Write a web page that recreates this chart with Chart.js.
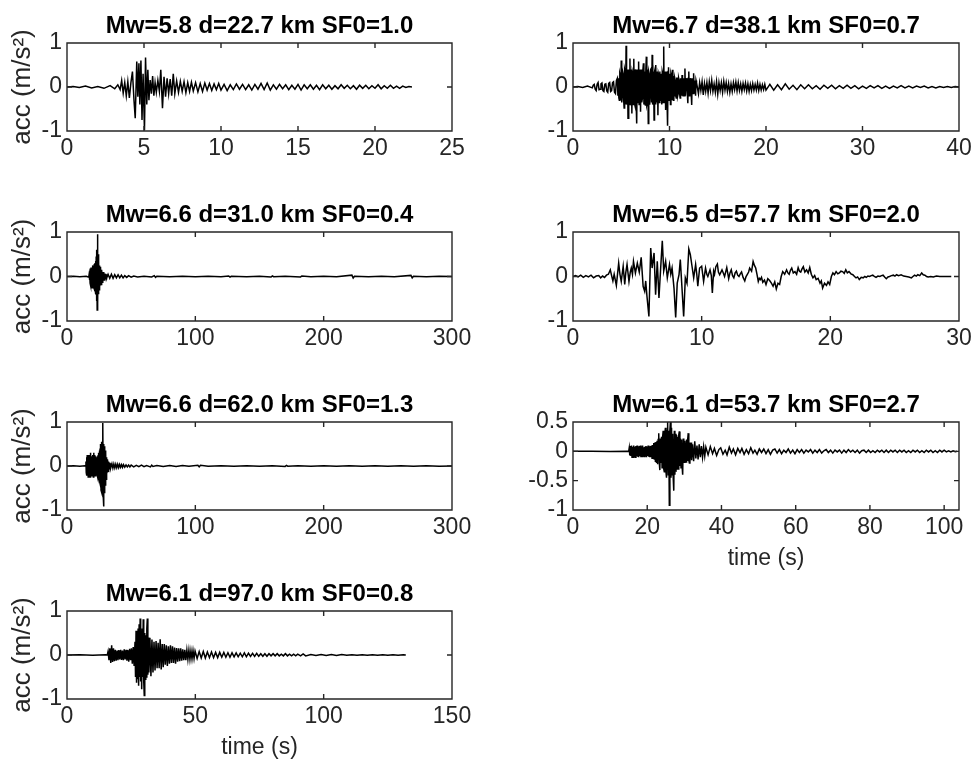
<!DOCTYPE html>
<html><head><meta charset="utf-8">
<script src="https://cdn.jsdelivr.net/npm/chart.js@4/dist/chart.umd.min.js"></script>
<style>
html,body{margin:0;padding:0;background:#fff;overflow:hidden;width:972px;height:759px;}
.panel{position:absolute;}
</style></head><body>
<script>
// ---------- data (time s, acceleration m/s^2) ----------
const titles = ['Mw=5.8 d=22.7 km SF0=1.0','Mw=6.7 d=38.1 km SF0=0.7','Mw=6.6 d=31.0 km SF0=0.4','Mw=6.5 d=57.7 km SF0=2.0','Mw=6.6 d=62.0 km SF0=1.3','Mw=6.1 d=53.7 km SF0=2.7','Mw=6.1 d=97.0 km SF0=0.8'];
const xMax = [25, 40, 300, 30, 300, 104, 150];
const xStep = [5, 10, 100, 10, 100, 20, 50];
const yMin = [-1, -1, -1, -1, -1, -1, -1];
const yMax = [1, 1, 1, 1, 1, 0.5, 1];
const yStep = [1, 1, 1, 1, 1, 0.5, 1];
const yLabel = 'acc (m/s\u00B2)';
const xLabel = 'time (s)';

const trace1 = [[0,0],[0.4,0.01],[0.8,-0.01],[1.2,0.02],[1.6,-0.02],[2.0,0.01],[2.4,-0.03],[2.8,0.03],[3.1,-0.04],[3.3,0.05],
[3.45,-0.06],[3.55,0.15],[3.65,-0.14],[3.75,0.1],[3.85,-0.2],[3.95,0.12],[4.05,-0.25],[4.15,0.1],[4.25,0.35],[4.35,-0.3],
[4.43,-0.71],[4.53,0.58],[4.6,-0.22],[4.67,0.54],[4.73,-0.4],[4.8,0.6],[4.87,-0.75],[4.94,0.3],[5.03,-0.98],[5.1,0.67],
[5.18,-0.4],[5.25,0.39],[5.32,-0.3],[5.4,0.16],[5.48,-0.15],[5.56,0.25],[5.64,-0.2],[5.72,0.1],[5.8,-0.12],[5.9,0.15],
[6.0,-0.1],[6.09,0.39],[6.2,-0.48],[6.3,0.23],[6.4,-0.22],[6.5,0.2],[6.6,-0.15],[6.7,0.18],[6.8,-0.2],[6.9,0.3],
[7.0,-0.15],[7.12,0.14],[7.24,-0.12],[7.36,0.13],[7.48,-0.1],[7.6,0.12],[7.72,-0.13],[7.84,0.1],[7.96,-0.1],[8.08,0.11],
[8.2,-0.09],[8.35,0.1],[8.5,-0.11],[8.65,0.08],[8.8,-0.1],[8.95,0.09],[9.1,-0.07],[9.25,0.08],[9.4,-0.08],[9.55,0.07],
[9.7,-0.06],[9.85,0.08],[10.0,-0.07],[10.2,0.06],[10.4,-0.08],[10.6,0.05],[10.8,-0.06],[11.0,0.07],[11.2,-0.05],[11.4,0.06],
[11.6,-0.06],[11.8,0.05],[12.0,-0.07],[12.2,0.06],[12.4,-0.05],[12.6,0.08],[12.8,-0.06],[13.0,0.09],[13.2,-0.07],[13.4,0.05],
[13.6,-0.05],[13.8,0.06],[14.0,-0.04],[14.2,0.05],[14.4,-0.06],[14.6,0.04],[14.8,-0.05],[15.0,0.06],[15.2,-0.07],[15.4,0.05],
[15.6,-0.04],[15.8,0.05],[16.0,-0.05],[16.2,0.04],[16.4,-0.06],[16.6,0.05],[16.8,-0.04],[17.0,0.04],[17.2,-0.05],[17.4,0.03],
[17.6,-0.04],[17.8,0.05],[18.0,-0.03],[18.2,0.04],[18.4,-0.04],[18.6,0.03],[18.8,-0.05],[19.0,0.04],[19.2,-0.03],[19.4,0.04],
[19.6,-0.04],[19.8,0.03],[20.0,-0.03],[20.2,0.05],[20.4,-0.04],[20.6,0.03],[20.8,-0.03],[21.0,0.04],[21.2,-0.03],[21.4,0.02],
[21.6,-0.03],[21.8,0.02],[22.0,-0.01],[22.2,0.01],[22.4,0]];

const trace2 = [[0,0],[0.5,0.01],[1.0,-0.01],[1.5,0.02],[2.0,-0.02],
[2.1,0.04],[2.2,0.06],[2.3,-0.05],[2.4,-0.08],[2.5,0.06],[2.6,0.1],[2.7,-0.06],[2.8,-0.05],[2.9,0.07],[3.0,0.09],
[3.1,-0.08],[3.2,-0.1],[3.3,0.06],[3.4,0.07],[3.5,-0.09],[3.6,-0.12],[3.7,0.08],[3.8,0.1],[3.9,-0.1],[4.0,-0.08],
[4.1,0.1],[4.2,0.12],[4.3,-0.12],[4.4,-0.15],[4.5,0.15],[4.6,0.2],[4.65,-0.2],
[4.7,0.2],[4.75,-0.25],[4.8,-0.3],[4.85,0.3],[4.9,0.25],[4.95,-0.3],[5.0,0.6],[5.05,-0.35],[5.1,-0.2],[5.15,0.35],
[5.2,0.3],[5.25,-0.3],[5.3,-0.48],[5.35,0.4],[5.4,0.35],[5.45,-0.4],[5.5,0.94],[5.55,-0.4],[5.6,-0.3],[5.65,0.4],
[5.7,-0.71],[5.75,0.35],[5.8,0.4],[5.85,-0.4],[5.9,0.65],[5.95,-0.3],[6.0,-0.35],[6.05,0.4],[6.1,-0.6],[6.15,0.35],
[6.2,0.3],[6.25,-0.4],[6.3,0.64],[6.35,-0.35],[6.4,-0.4],[6.45,0.4],[6.5,0.25],[6.55,-0.4],[6.6,-0.83],[6.65,0.4],
[6.7,0.3],[6.75,-0.35],[6.8,0.58],[6.85,-0.4],[6.9,-0.3],[6.95,0.4],[7.0,-0.56],[7.05,0.4],[7.1,0.35],[7.15,-0.35],
[7.2,-0.25],[7.25,0.4],[7.3,0.54],[7.35,-0.4],[7.4,-0.3],[7.45,0.35],[7.5,-0.41],[7.55,0.4],[7.6,0.69],[7.65,-0.4],
[7.7,-0.35],[7.75,0.4],[7.8,-0.83],[7.85,0.35],[7.9,0.3],[7.95,-0.4],[8.0,-0.2],[8.05,0.4],[8.1,0.42],[8.15,-0.35],
[8.2,0.73],[8.25,-0.4],[8.3,-0.3],[8.35,0.35],[8.4,-0.75],[8.45,0.35],[8.5,0.3],[8.55,-0.4],[8.6,0.5],[8.65,-0.35],
[8.7,-0.35],[8.75,0.35],[8.8,-0.64],[8.85,0.3],[8.9,0.25],[8.95,-0.35],[9.0,0.35],[9.05,-0.3],[9.1,-0.2],[9.15,0.3],
[9.2,-0.4],[9.25,0.35],[9.3,0.3],[9.35,-0.35],[9.4,0.92],[9.45,-0.35],[9.5,-0.3],[9.55,0.35],[9.6,-0.52],[9.65,0.35],
[9.7,0.2],[9.75,-0.35],[9.8,-0.88],[9.85,0.35],[9.9,0.45],[9.95,-0.3],[10.0,-0.25],[10.05,0.3],[10.1,-0.4],[10.15,0.3],
[10.2,0.25],[10.25,-0.3],[10.3,0.39],[10.35,-0.25],[10.4,-0.3],[10.45,0.25],[10.5,-0.2],[10.55,0.2],[10.6,0.15],[10.65,-0.2],
[10.7,-0.25],[10.75,0.2],[10.8,0.2],[10.85,-0.2],[10.9,-0.15],[10.95,0.2],[11.0,0.15],[11.05,-0.15],[11.1,-0.25],[11.15,0.2],
[11.2,0.1],[11.25,-0.2],[11.3,0.27],[11.35,-0.15],[11.4,-0.2],[11.45,0.2],[11.5,0.15],[11.55,-0.2],[11.6,0.42],[11.65,-0.2],
[11.7,-0.2],[11.75,0.2],[11.8,0.1],[11.85,-0.15],[11.9,-0.37],[11.95,0.2],[12.0,0.35],[12.05,-0.2],[12.1,-0.15],[12.15,0.2],
[12.2,0.1],[12.25,-0.15],[12.3,-0.41],[12.35,0.2],[12.4,0.2],[12.45,-0.15],[12.5,0.31],[12.55,-0.15],[12.6,-0.15],[12.65,0.15],
[12.7,-0.2],[12.75,0.15],[12.8,0.1],
[13.0,-0.15],[13.125,0.1],[13.25,-0.08],[13.375,0.12],[13.5,-0.18],[13.625,0.08],[13.75,-0.1],[13.875,0.1],
[14.0,-0.14],[14.125,0.12],[14.25,-0.08],[14.375,0.15],[14.5,-0.1],[14.625,0.07],[14.75,-0.12],[14.875,0.12],
[15.0,-0.16],[15.125,0.1],[15.25,-0.08],[15.375,0.1],[15.5,-0.12],[15.625,0.13],[15.75,-0.07],[15.875,0.1],
[16.0,-0.1],[16.125,0.08],[16.25,-0.12],[16.375,0.07],[16.5,-0.1],[16.625,0.1],[16.75,-0.06],[16.875,0.11],
[17.0,-0.09],[17.125,0.1],[17.25,-0.08],[17.375,0.07],[17.5,-0.1],[17.625,0.08],[17.75,-0.06],[17.875,0.09],
[18.0,-0.09],[18.125,0.07],[18.25,-0.1],[18.375,0.06],[18.5,-0.08],[18.625,0.08],[18.75,-0.07],[18.875,0.06],
[19.0,-0.07],[19.125,0.09],[19.25,-0.08],[19.375,0.06],[19.5,-0.07],[19.625,0.05],[19.75,-0.06],[19.875,0.06],[20.0,-0.07],
[20.4,0.06],[20.8,-0.07],[21.2,0.05],[21.6,-0.06],[22.0,0.07],[22.4,-0.05],[22.8,0.04],[23.2,-0.06],[23.6,0.05],[24.0,-0.04],
[24.4,0.05],[24.8,-0.04],[25.2,0.03],[25.6,-0.05],[26.0,0.04],[26.4,-0.03],[26.8,0.04],[27.2,-0.04],[27.6,0.03],[28.0,-0.03],
[28.4,0.04],[28.8,-0.03],[29.2,0.03],[29.6,-0.04],[30.0,0.02],[30.4,-0.03],[30.8,0.03],[31.2,-0.02],[31.6,0.03],[32.0,-0.03],
[32.4,0.02],[32.8,-0.03],[33.2,0.02],[33.6,-0.02],[34.0,0.03],[34.4,-0.02],[34.8,0.02],[35.2,-0.02],[35.6,0.02],[36.0,-0.01],
[36.4,0.02],[36.8,-0.02],[37.2,0.01],[37.6,-0.02],[38.0,0.01],[38.4,-0.01],[38.8,0.01],[39.2,-0.01],[39.6,0.01],[40.0,0]];

const trace3 = [[0,0],[5,0.005],[10,-0.005],[15,0.005],[16.5,-0.01],
[17.0,0],[17.25,0.05],[17.5,-0.08],[17.75,0.12],[18.0,-0.15],[18.25,0.18],[18.5,-0.2],[18.75,0.2],[19.0,-0.22],[19.25,0.2],
[19.5,-0.25],[19.75,0.22],[20.0,-0.2],[20.25,0.25],[20.5,-0.22],[20.75,0.2],[21.0,-0.25],[21.25,0.28],[21.5,-0.25],[21.75,0.3],
[22.0,-0.3],[22.25,0.35],[22.5,-0.4],[22.75,0.45],[23.0,-0.55],[23.25,0.6],[23.5,-0.75],[23.75,0.95],[24.0,-0.6],[24.25,0.5],
[24.5,-0.4],[24.75,0.35],[25.0,-0.3],[25.25,0.25],[25.5,-0.28],[25.75,0.22],[26.0,-0.2],[26.25,0.2],[26.5,-0.18],[26.75,0.15],
[27.0,-0.16],[27.25,0.12],[27.5,-0.13],[27.75,0.1],[28.0,-0.12],[28.25,0.1],[28.5,-0.08],[28.75,0.1],[29.0,-0.08],[29.25,0.07],
[29.5,-0.07],[29.75,0.06],[30.0,-0.06],[30.25,0.05],[30.5,-0.05],[30.75,0.05],[31.0,-0.04],
[32,0.05],[33.3,-0.04],[34.6,0.05],[35.9,-0.04],[37.2,0.04],[38.5,-0.03],[39.8,0.04],[41.1,-0.03],[42.4,0.03],[43.7,-0.03],
[45,0.02],[46.5,-0.02],[48,0.02],[50,-0.015],[52,0.01],[55,-0.01],
[60,0.005],[66,-0.01],[68,0.02],[69,-0.02],[70,0.005],[80,-0.005],[90,0.005],[100,-0.005],[110,0.005],[120,-0.005],
[126,0.01],[127,-0.015],[128,0.005],[140,-0.005],[150,0.005],[159,-0.01],[160,0.015],[161,-0.005],[170,0.005],[182,-0.01],
[183,0.012],[190,-0.005],[200,0.005],[210,-0.005],[222,0.03],[223,-0.035],[224,0.005],[235,-0.005],[245,0.005],[255,-0.005],
[268,0.025],[269,-0.03],[270,0.005],[280,-0.005],[290,0.005],[300,0]];

const trace4 = [[0,0],[0.2,0.02],[0.4,-0.01],[0.6,0.03],[0.8,-0.02],[1.0,0.02],[1.2,-0.01],[1.4,0.03],[1.6,-0.03],[1.8,0.01],
[2.0,0.02],[2.15,-0.03],[2.3,0.01],[2.45,-0.02],[2.6,0.03],[2.75,0.05],[2.9,0.15],[3.0,0.02],[3.1,-0.1],[3.2,0.05],
[3.37,-0.2],[3.55,0.3],[3.65,0.05],[3.75,-0.11],[3.9,0.23],[4.02,-0.18],[4.1,0.08],[4.2,0.27],[4.35,-0.11],[4.45,0.1],[4.53,0.19],
[4.62,0.05],[4.7,0.34],[4.85,0.08],[5.0,0.3],[5.15,0.1],[5.3,0.43],[5.45,-0.22],[5.57,-0.33],[5.65,-0.1],
[5.75,-0.45],[5.9,-0.9],[6.04,0.64],[6.15,0.19],[6.3,0.53],[6.42,-0.41],[6.55,0.34],[6.68,-0.48],[6.8,0.12],[6.94,0.8],
[7.05,0.12],[7.2,0.34],[7.33,-0.03],[7.5,0.27],[7.6,0.05],[7.7,0.19],[7.85,-0.26],[7.98,-0.92],[8.1,-0.15],[8.24,0.04],
[8.34,0.38],[8.47,-0.26],[8.6,-0.9],[8.73,-0.03],[8.86,-0.15],[9.0,0.62],[9.12,0.49],[9.25,0.23],[9.38,-0.03],[9.53,0.27],
[9.62,0.05],[9.7,-0.22],[9.84,0.19],[10.0,0.23],[10.08,0.05],[10.15,-0.11],[10.3,0.19],[10.4,0.05],[10.48,0.0],[10.65,0.15],
[10.75,0.02],[10.83,-0.37],[10.93,0.12],[11.0,0.05],[11.1,0.22],[11.22,0.28],[11.3,0.1],[11.4,0.04],[11.58,0.15],[11.68,0.08],
[11.78,0.0],[11.95,0.2],[12.1,-0.05],[12.2,0.08],[12.3,0.15],[12.4,0.02],[12.5,-0.03],[12.6,0.08],[12.7,0.12],[12.8,0.03],
[12.9,0.0],[13.0,0.06],[13.1,0.1],[13.22,-0.02],[13.35,-0.1],[13.45,0.0],[13.55,0.05],[13.65,0.1],[13.73,0.19],[13.88,0.12],
[14.0,0.34],[14.1,0.25],[14.2,0.19],[14.3,0.05],[14.4,-0.11],[14.48,-0.04],[14.56,-0.07],[14.65,-0.02],[14.75,-0.13],[14.88,-0.08],
[15.0,-0.18],[15.14,-0.05],[15.28,-0.09],[15.42,-0.15],[15.55,-0.22],[15.68,-0.12],[15.8,-0.28],[15.93,-0.15],[16.06,-0.18],[16.18,0.0],
[16.3,0.11],[16.45,0.05],[16.6,0.15],[16.7,0.08],[16.8,0.05],[16.9,0.14],[17.0,0.19],[17.12,0.08],[17.25,0.11],[17.38,0.05],
[17.5,0.2],[17.6,0.12],[17.7,0.1],[17.8,0.17],[17.9,0.22],[18.02,0.1],[18.15,0.15],[18.28,0.08],[18.4,0.2],[18.52,0.05],
[18.65,-0.03],[18.78,0.02],[18.9,-0.07],[19.05,-0.04],[19.2,-0.15],[19.3,-0.1],[19.4,-0.26],[19.55,-0.15],[19.7,-0.2],[19.82,-0.12],
[19.95,-0.18],[20.08,0.0],[20.2,0.08],[20.32,0.04],[20.45,0.11],[20.58,0.06],[20.7,0.08],[20.82,0.12],[20.95,0.11],[21.08,0.07],
[21.2,0.15],[21.32,0.08],[21.45,0.11],[21.6,0.06],[21.75,0.04],[21.88,0.0],[22.0,-0.03],[22.12,-0.01],[22.25,-0.07],[22.4,-0.02],
[22.55,-0.03],[22.68,0.0],[22.8,-0.02],[22.92,0.01],[23.05,0.0],[23.18,0.02],[23.3,0.03],[23.42,0.0],[23.55,-0.02],[23.7,0.01],
[23.85,0.0],[23.98,0.02],[24.1,0.03],[24.22,-0.01],[24.35,-0.05],[24.48,-0.01],[24.6,0.0],[24.75,0.02],[24.9,0.03],[25.02,0.01],
[25.15,0.04],[25.3,0.02],[25.5,0.04],[25.7,0.01],[25.9,0.0],[26.1,-0.01],[26.3,-0.03],[26.42,0.0],[26.55,0.03],[26.68,0.01],
[26.8,0.04],[26.95,0.02],[27.1,0.08],[27.22,0.04],[27.35,0.03],[27.48,0.0],[27.6,-0.01],[27.8,0.0],[28.0,-0.01],[28.25,0.01],
[28.5,0.0],[28.75,0.0],[29.0,0.0],[29.4,0.0]];

const trace5 = [[0,0],[5,0.005],[10,-0.005],[14,0.005],
[14.5,0],[14.75,0.1],[15.0,-0.15],[15.25,0.2],[15.5,-0.22],[15.75,0.25],[16.0,-0.2],[16.25,0.22],[16.5,-0.25],[16.75,0.2],
[17.0,-0.22],[17.25,0.25],[17.5,-0.2],[17.75,0.22],[18.0,-0.25],[18.25,0.3],[18.5,-0.22],[18.75,0.2],[19.0,-0.24],[19.25,0.22],
[19.5,-0.2],[19.75,0.25],[20.0,-0.22],[20.25,0.2],[20.5,-0.25],[20.75,0.3],[21.0,-0.22],[21.25,0.25],[21.5,-0.2],[21.75,0.2],
[22.0,-0.22],[22.25,0.22],[22.5,-0.18],[22.75,0.2],[23.0,-0.2],[23.25,0.18],[23.5,-0.2],[23.75,0.22],[24.0,-0.25],[24.25,0.25],
[24.5,-0.3],[24.75,0.3],[25.0,-0.3],[25.25,0.35],[25.5,-0.35],[25.75,0.4],[26.0,-0.45],[26.25,0.5],[26.5,-0.55],[26.75,0.55],
[27.0,-0.6],[27.25,0.55],[27.5,-0.65],[27.75,0.6],[28.0,0.98],[28.25,-0.7],[28.5,-0.92],[28.75,0.5],[29.0,-0.6],[29.25,0.45],
[29.5,-0.5],[29.75,0.35],[30.0,-0.45],[30.25,0.3],[30.5,-0.3],[30.75,0.2],[31.0,-0.2],[31.25,0.15],[31.5,-0.15],[31.75,0.12],
[32.0,-0.12],[32.25,0.1],[32.5,-0.1],[32.75,0.08],[33.0,-0.08],[33.25,0.07],[33.5,-0.06],[33.75,0.06],[34.0,-0.05],
[35,0.05],[35.75,-0.05],[36.5,0.045],[37.25,-0.045],[38,0.04],[38.75,-0.04],[39.5,0.04],[40.25,-0.035],[41,0.035],[41.75,-0.03],
[42.5,0.03],[43.25,-0.03],[44,0.03],[45,-0.025],[46,0.025],[47,-0.02],[48,0.02],[49,-0.02],[50,0.02],[52,-0.02],
[54,0.015],[56,-0.015],[58,0.02],[60,-0.015],[62,0.01],[65,-0.02],[66,0.02],[67,-0.01],[70,0.01],[75,-0.01],
[80,0.01],[85,-0.01],[90,0.01],[95,-0.008],[102,0.015],[103,-0.02],[104,0.015],[110,-0.005],[120,0.005],[130,-0.005],
[140,0.005],[150,-0.005],[160,0.005],[170,-0.01],[171,0.012],[172,-0.005],[180,0.005],[190,-0.005],[200,0.005],[210,-0.005],
[220,0.005],[230,-0.005],[240,0.005],[250,-0.005],[260,0.005],[270,-0.005],[280,0.005],[290,-0.005],[300,0]];

const trace6 = [[0,0],[5,0.003],[10,-0.003],[14.5,0.003],
[15.0,0],[15.15,0.06],[15.3,-0.07],[15.45,0.09],[15.6,-0.08],[15.75,0.1],[15.9,-0.1],[16.05,0.08],[16.2,-0.1],[16.35,0.1],
[16.5,-0.09],[16.65,0.08],[16.8,-0.1],[16.95,0.09],[17.1,-0.08],[17.25,0.1],[17.4,-0.09],[17.55,0.07],[17.7,-0.1],[17.85,0.09],
[18.0,-0.08],[18.15,0.1],[18.3,-0.1],[18.45,0.08],[18.6,-0.09],[18.75,0.1],[18.9,-0.08],[19.05,0.07],[19.2,-0.09],[19.35,0.08],
[19.5,-0.07],[19.65,0.09],[19.8,-0.1],[19.95,0.08],[20.1,-0.08],[20.25,0.1],[20.4,-0.09],[20.55,0.08],[20.7,-0.1],[20.85,0.09],
[21.0,-0.1],[21.15,0.1],[21.3,-0.12],[21.45,0.11],[21.6,-0.12],[21.75,0.14],[21.9,-0.13],[22.05,0.15],[22.2,-0.17],[22.35,0.16],
[22.5,-0.2],[22.65,0.18],[22.8,-0.22],[22.95,0.2],[23.1,0.31],[23.25,-0.2],[23.4,-0.32],[23.55,0.22],[23.7,-0.2],[23.85,0.25],
[24.0,-0.28],[24.15,0.25],[24.3,0.35],[24.45,-0.3],[24.6,-0.35],[24.75,0.3],[24.9,0.4],[25.05,-0.35],[25.2,-0.45],[25.35,0.35],
[25.5,0.5],[25.65,-0.4],[25.8,0.35],[25.95,-0.92],[26.1,0.35],[26.25,0.51],[26.4,-0.45],[26.55,0.4],[26.7,-0.4],[26.85,0.3],
[27.0,-0.45],[27.15,-0.67],[27.3,0.35],[27.45,-0.4],[27.6,0.3],[27.75,-0.35],[27.9,0.28],[28.05,-0.3],[28.2,0.25],[28.35,-0.3],
[28.5,0.28],[28.65,0.34],[28.8,-0.25],[28.95,0.22],[29.1,-0.28],[29.25,0.2],[29.4,-0.25],[29.55,-0.4],[29.7,0.22],[29.85,-0.2],
[30.0,0.18],[30.15,-0.2],[30.3,0.15],[30.45,-0.18],[30.6,0.2],[30.75,-0.15],[30.9,0.2],[31.05,0.31],[31.2,-0.15],[31.35,-0.2],
[31.5,0.15],[31.65,-0.12],[31.8,0.15],[31.95,-0.15],
[32.2,0.12],[32.5,-0.17],[32.8,0.17],[33.1,-0.12],[33.4,0.1],[33.7,-0.14],[34.0,0.12],[34.3,-0.1],[34.6,0.09],[34.9,-0.1],
[35.2,0.08],[35.5,-0.08],[35.8,0.07],
[36.4,-0.06],[37.0,0.08],[37.6,-0.04],[38.1,0.05],[38.7,-0.07],[39.3,0.03],[39.8,0.06],[40.4,-0.05],[41.0,0.02],[41.5,-0.06],
[42.1,0.07],[42.7,-0.03],[43.2,0.04],[43.8,-0.06],[44.4,0.05],[45.0,-0.02],[45.5,0.05],[46.1,-0.05],[46.7,0.03],[47.3,-0.04],
[47.9,0.06],[48.5,-0.03],[49.0,0.02],[49.6,-0.05],[50.2,0.04],[50.8,-0.02],[51.4,0.04],[52.0,-0.04],[52.6,0.03],[53.2,-0.05],
[53.8,0.02],[54.4,0.04],[55.0,-0.03],[55.6,0.03],[56.2,-0.04],[56.8,0.02],[57.4,-0.02],[58.0,0.04],[58.6,-0.03],[59.2,0.02],
[59.8,-0.04],[60.4,0.03],[61.0,-0.02],[61.6,0.03],[62.2,-0.03],[62.8,0.02],[63.4,-0.01],[64.0,0.03],[64.6,-0.03],[65.2,0.02],
[65.8,-0.02],[66.4,0.03],[67.0,-0.03],[67.6,0.01],[68.2,0.03],[68.8,-0.02],[69.4,0.02],[70.0,-0.03],[70.6,0.02],[71.2,-0.01],
[71.8,0.02],[72.4,-0.03],[73.0,0.02],[73.6,-0.02],[74.2,0.03],[74.8,-0.01],[75.4,0.02],[76.0,-0.02],[76.6,0.02],[77.2,-0.03],
[77.8,0.01],[78.4,0.02],[79.0,-0.02],[79.6,0.02],[80.2,-0.02],[80.8,0.01],[81.4,-0.02],[82.0,0.02],[82.6,-0.01],[83.2,0.02],
[83.8,-0.02],[84.4,0.02],[85.0,-0.02],[85.6,0.02],[86.2,-0.01],[86.8,0.02],[87.4,-0.02],[88.0,0.02],[88.6,-0.01],[89.2,0.02],
[89.8,-0.02],[90.4,0.01],[91.0,-0.02],[91.6,0.02],[92.2,-0.01],[92.8,0.02],[93.4,-0.02],[94.0,0.01],[94.6,-0.02],[95.2,0.02],
[95.8,-0.01],[96.4,0.02],[97.0,-0.02],[97.6,0.01],[98.2,-0.02],[98.8,0.02],[99.4,-0.01],[100.0,0.02],[100.6,-0.01],[101.2,0.01],
[101.8,-0.01],[102.4,0.01],[103.0,-0.005],[103.5,0]];

const trace7 = [[0,0],[5,0.003],[10,-0.003],[15,0.003],[15.7,0],
[16.0,0.08],[16.35,-0.12],[16.7,0.15],[17.05,-0.18],[17.4,0.22],[17.75,-0.16],[18.1,0.15],[18.45,-0.14],[18.8,0.12],[19.15,-0.13],
[19.5,0.1],[19.85,-0.12],[20.2,0.11],[20.55,-0.1],[20.9,0.12],[21.25,-0.11],[21.6,0.1],[21.95,-0.12],[22.3,0.13],[22.65,-0.1],
[23.0,0.12],[23.35,-0.13],[23.7,0.11],[24.05,-0.15],[24.4,0.14],[24.75,-0.12],[25.1,0.15],[25.45,-0.2],[25.8,0.18],[26.15,-0.25],
[26.5,0.3],[26.7,-0.5],[26.9,0.55],[27.1,-0.63],[27.3,0.5],[27.5,-0.55],[27.7,0.6],[27.9,-0.7],[28.1,0.7],[28.3,-0.5],
[28.5,0.83],[28.7,-0.6],[28.9,0.5],[29.1,-0.78],[29.3,0.6],[29.5,-0.5],[29.7,0.81],[29.9,-0.6],[30.1,-0.92],[30.3,0.5],
[30.5,-0.55],[30.7,0.45],[30.9,-0.5],[31.1,0.6],[31.3,0.83],[31.5,-0.45],[31.7,0.4],[31.9,-0.4],
[32.3,0.39],[32.7,-0.48],[33.1,0.35],[33.5,-0.4],[33.9,0.3],[34.3,-0.35],[34.7,0.32],[35.1,-0.3],[35.5,0.28],[35.9,-0.3],
[36.3,0.36],[36.7,-0.33],[37.1,0.25],[37.5,-0.28],[37.9,0.25],[38.3,-0.22],[38.7,0.22],[39.1,-0.25],[39.5,0.2],[39.9,-0.2],
[40.3,0.22],[40.7,-0.18],[41.1,0.2],[41.5,-0.18],[41.9,0.17],[42.3,-0.2],[42.7,0.16],[43.1,-0.15],[43.5,0.15],[43.9,-0.14],
[44.3,0.15],[44.7,-0.13],[45.1,0.13],[45.5,-0.12],[45.9,0.12],[46.3,-0.12],[46.7,0.11],[47.1,-0.1],[47.5,0.11],[47.9,-0.1],
[48.3,0.1],[48.7,-0.09],[49.1,0.1],[49.5,-0.08],[49.9,0.09],
[50.7,-0.08],[51.5,0.08],[52.3,-0.07],[53.1,0.08],[53.9,-0.07],[54.7,0.07],[55.5,-0.06],[56.3,0.07],[57.1,-0.06],[57.9,0.06],
[58.7,-0.06],[59.5,0.06],[60.3,-0.05],[61.1,0.06],[61.9,-0.05],[62.7,0.05],[63.5,-0.05],[64.3,0.05],[65.1,-0.04],[65.9,0.05],
[66.7,-0.04],[67.5,0.04],[68.3,-0.04],[69.1,0.05],[69.9,-0.04],[70.7,0.04],[71.5,-0.03],[72.3,0.04],[73.1,-0.03],[73.9,0.04],
[74.7,-0.03],[75.5,0.03],[76.3,-0.03],[77.1,0.03],[77.9,-0.03],[78.7,0.03],[79.5,-0.02],[80.3,0.03],[81.1,-0.02],[81.9,0.03],
[82.7,-0.02],[83.5,0.02],[84.3,-0.02],[85.1,0.03],[85.9,-0.02],[86.7,0.02],[87.5,-0.02],[88.3,0.02],[89.1,-0.02],[89.9,0.02],
[91,-0.02],[92,0.025],[93,-0.02],[95,0.01],[97,-0.01],[99,0.01],[101,-0.01],[103,0.01],[105,-0.01],[107,0.01],
[109,-0.008],[111,0.008],[113,-0.008],[115,0.008],[117,-0.008],[119,0.008],[121,-0.006],[123,0.006],[125,-0.006],[127,0.005],
[129,-0.005],[131,0.003],[132,0]];

const traces = [trace1, trace2, trace3, trace4, trace5, trace6, trace7];

// ---------- layout (page pixels of each plot box: left, top, right, bottom) ----------
const boxes = [[67,43,452,131],[573,43,959,131],[67,232,452,321],[573,232,959,321],[67,422,452,510],[573,422,959,510],[67,611,452,699]];
const showYLabel = [true,false,true,false,true,false,true];
const showXLabel = [false,false,false,false,false,true,true];
const PAD_L = 67, PAD_T = 40, PAD_R = 24, PAD_B = 62;
const FONT = '"Liberation Sans", Arial, Helvetica, sans-serif';
const AXC = '#262626';

Chart.defaults.font.family = FONT;
Chart.defaults.color = AXC;

const matlabAxes = {
  id: 'matlabAxes',
  afterDraw(chart, args, opts) {
    const {ctx, chartArea: a, scales: {x, y}} = chart;
    ctx.save();
    ctx.font = 'bold 24px ' + FONT;
    ctx.fillStyle = '#000';
    ctx.textAlign = 'center';
    ctx.textBaseline = 'middle';
    ctx.fillText(opts.title, (a.left + a.right) / 2, a.top - 17);
    ctx.strokeStyle = AXC;
    ctx.lineWidth = 1.4;
    ctx.beginPath();
    ctx.rect(a.left, a.top, a.right - a.left, a.bottom - a.top);
    const len = 5;
    x.ticks.forEach(t => {
      const px = x.getPixelForValue(t.value);
      ctx.moveTo(px, a.bottom); ctx.lineTo(px, a.bottom - len);
      ctx.moveTo(px, a.top); ctx.lineTo(px, a.top + len);
    });
    y.ticks.forEach(t => {
      const py = y.getPixelForValue(t.value);
      ctx.moveTo(a.left, py); ctx.lineTo(a.left + len, py);
      ctx.moveTo(a.right, py); ctx.lineTo(a.right - len, py);
    });
    ctx.stroke();
    ctx.restore();
  }
};

boxes.forEach((b, i) => {
  const [L, T, R, B] = b;
  const div = document.createElement('div');
  div.className = 'panel';
  const w = (R - L) + PAD_L + PAD_R, h = (B - T) + PAD_T + PAD_B;
  div.style.left = (L - PAD_L) + 'px';
  div.style.top = (T - PAD_T) + 'px';
  div.style.width = w + 'px';
  div.style.height = h + 'px';
  const cv = document.createElement('canvas');
  cv.width = w; cv.height = h;
  cv.style.width = w + 'px'; cv.style.height = h + 'px';
  div.appendChild(cv);
  document.body.appendChild(div);

  new Chart(cv, {
    type: 'line',
    data: {
      datasets: [{
        data: traces[i].map(p => ({x: p[0], y: p[1]})),
        borderColor: '#000',
        borderWidth: 1.5,
        pointRadius: 0,
        tension: 0,
        fill: false
      }]
    },
    options: {
      responsive: false,
      animation: false,
      events: [],
      devicePixelRatio: 1,
      layout: {padding: {left: 0, top: PAD_T, right: PAD_R, bottom: 0}},
      plugins: {legend: {display: false}, tooltip: {enabled: false}, title: {display: false},
                matlabAxes: {title: titles[i]}},
      scales: {
        x: {
          type: 'linear', min: 0, max: xMax[i],
          grid: {display: false, drawTicks: false},
          border: {display: false},
          ticks: {stepSize: xStep[i], includeBounds: false, autoSkip: false, maxRotation: 0, minRotation: 0,
                  padding: 4, color: AXC, font: {size: 23}, callback: v => String(v)},
          title: {display: showXLabel[i], text: xLabel, color: AXC, font: {size: 23}, padding: {top: 0, bottom: 0}},
          afterFit: s => { s.height = PAD_B; }
        },
        y: {
          type: 'linear', min: yMin[i], max: yMax[i],
          grid: {display: false, drawTicks: false},
          border: {display: false},
          ticks: {stepSize: yStep[i], includeBounds: false, autoSkip: false, padding: 5, color: AXC,
                  font: {size: 23}, callback: v => String(v)},
          title: {display: showYLabel[i], text: yLabel, color: AXC, font: {size: 26}, padding: {top: 7, bottom: 0}},
          afterFit: s => { s.width = PAD_L; }
        }
      }
    },
    plugins: [matlabAxes]
  });
});
</script>
</body></html>
